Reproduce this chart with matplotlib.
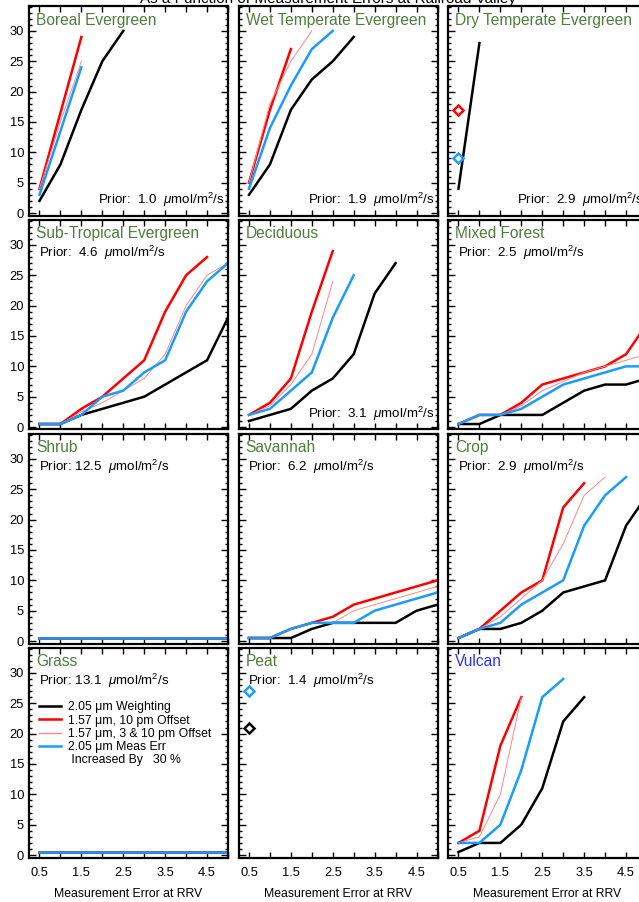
import numpy as np
import matplotlib
matplotlib.use("Agg")
import matplotlib.pyplot as plt
from matplotlib.lines import Line2D
from matplotlib.ticker import MultipleLocator, FuncFormatter

plt.rcParams['font.family'] = ['Liberation Sans', 'DejaVu Sans']
plt.rcParams['mathtext.fontset'] = 'custom'
plt.rcParams['mathtext.rm'] = 'Liberation Sans'
plt.rcParams['mathtext.it'] = 'Liberation Sans:italic'

# ---------------- data ----------------
x_err = [0.5, 1.0, 1.5, 2.0, 2.5, 3.0, 3.5, 4.0, 4.5, 5.0]

panel_names = ["Boreal Evergreen", "Wet Temperate Evergreen", "Dry Temperate Evergreen",
               "Sub-Tropical Evergreen", "Deciduous", "Mixed Forest",
               "Shrub", "Savannah", "Crop",
               "Grass", "Peat", "Vulcan"]
priors = [1.0, 1.9, 2.9, 4.6, 3.1, 2.5, 12.5, 6.2, 2.9, 13.1, 1.4, None]

# series per panel: black (2.05um weighting), red (1.57um 10pm), pink (1.57um 3&10pm), blue (meas err +30%)
black = {
    "Boreal Evergreen": [2, 8, 17, 25, 30],
    "Wet Temperate Evergreen": [3, 8, 17, 22, 25, 29],
    "Dry Temperate Evergreen": [4, 28],
    "Sub-Tropical Evergreen": [0.5, 0.5, 2, 3, 4, 5, 7, 9, 11, 18],
    "Deciduous": [1, 2, 3, 6, 8, 12, 22, 27],
    "Mixed Forest": [0.5, 0.5, 2, 2, 2, 4, 6, 7, 7, 8],
    "Shrub": [0.5] * 10,
    "Savannah": [0.5, 0.5, 0.5, 2, 3, 3, 3, 3, 5, 6],
    "Crop": [0.5, 2, 2, 3, 5, 8, 9, 10, 19, 24],
    "Grass": [0.5] * 10,
    "Peat": [21],
    "Vulcan": [0.5, 2, 2, 5, 11, 22, 26],
}
red = {
    "Boreal Evergreen": [4, 16.5, 29],
    "Wet Temperate Evergreen": [5, 17, 27],
    "Dry Temperate Evergreen": [17],
    "Sub-Tropical Evergreen": [0.5, 0.5, 3, 5, 8, 11, 19, 25, 28],
    "Deciduous": [2, 4, 8, 19, 29],
    "Mixed Forest": [0.5, 2, 2, 4, 7, 8, 9, 10, 12, 17],
    "Shrub": [0.5] * 10,
    "Savannah": [0.5, 0.5, 2, 3, 4, 6, 7, 8, 9, 10],
    "Crop": [0.5, 2, 5, 8, 10, 22, 26],
    "Grass": [0.5] * 10,
    "Peat": [],
    "Vulcan": [2, 4, 18, 26],
}
pink = {
    "Boreal Evergreen": [4, 15, 25],
    "Wet Temperate Evergreen": [5, 18, 25, 30],
    "Dry Temperate Evergreen": [],
    "Sub-Tropical Evergreen": [0.5, 0.5, 2.5, 4, 6, 8, 12, 20, 25, 27],
    "Deciduous": [2, 3.5, 7, 12, 24],
    "Mixed Forest": [0.5, 2, 2, 3.5, 6, 7.5, 9, 10, 11, 12],
    "Shrub": [0.5] * 10,
    "Savannah": [0.5, 0.5, 2, 3, 3, 5, 6, 7, 8, 9],
    "Crop": [0.5, 2, 4, 7, 10, 16, 24, 27],
    "Grass": [0.5] * 10,
    "Peat": [],
    "Vulcan": [2, 3, 10, 26],
}
blue = {
    "Boreal Evergreen": [3, 13.5, 24],
    "Wet Temperate Evergreen": [4, 14, 21, 27, 30],
    "Dry Temperate Evergreen": [9],
    "Sub-Tropical Evergreen": [0.5, 0.5, 2, 5, 6, 9, 11, 19, 24, 27],
    "Deciduous": [2, 3, 6, 9, 18, 25],
    "Mixed Forest": [0.5, 2, 2, 3, 5, 7, 8, 9, 10, 10],
    "Shrub": [0.5] * 10,
    "Savannah": [0.5, 0.5, 2, 3, 3, 3, 5, 6, 7, 8],
    "Crop": [0.5, 2, 3, 6, 8, 10, 19, 24, 27],
    "Grass": [0.5] * 10,
    "Peat": [27],
    "Vulcan": [2, 2, 5, 14, 26, 29],
}

legend_labels = ["2.05 μm Weighting", "1.57 μm, 10 pm Offset",
                 "1.57 μm, 3 & 10 pm Offset", "2.05 μm Meas Err",
                 " Increased By   30 %"]

title_text = "As a Function of Measurement Errors at Railroad Valley"

# ---------------- styles ----------------
C_BLACK = "#000000"
C_RED = "#ff0000"
C_PINK = "#ff8888"
C_BLUE = "#1a9cff"
C_GREEN = "#4f7d3c"
C_VULCAN = "#2a32ff"

W, H = 639, 902
fig = plt.figure(figsize=(W / 100, H / 100), dpi=100)

col_left = [29, 238.5, 448]
row_top = [6, 220, 434, 648]
aw, ah = 199, 209.5

fig.text(328 / W, 1 - 2.5 / H, title_text, ha="center", va="baseline", fontsize=11)

for i, name in enumerate(panel_names):
    r, c = divmod(i, 3)
    ax = fig.add_axes([col_left[c] / W, 1 - (row_top[r] + ah) / H, aw / W, ah / H])
    ax.set_xlim(0.25, 5.0)
    ax.set_ylim(-0.4, 34.1)

    for data, col, lw in [(black, C_BLACK, 1.8), (red, C_RED, 1.8),
                          (pink, C_PINK, 0.7), (blue, C_BLUE, 1.8)]:
        vals = data[name]
        if len(vals) == 0:
            continue
        xs = x_err[:len(vals)]
        if len(vals) == 1:
            ax.plot(xs, vals, linestyle="none", marker="D", ms=5.5, mfc="none",
                    mec=col, mew=1.8, clip_on=False)
        else:
            ax.plot(xs, vals, color=col, lw=lw, solid_joinstyle="miter")

    for sp in ax.spines.values():
        sp.set_linewidth(1.6)
    ax.xaxis.set_major_locator(MultipleLocator(0.5))
    ax.yaxis.set_major_locator(MultipleLocator(5))
    ax.yaxis.set_minor_locator(MultipleLocator(1))
    ax.tick_params(axis="both", which="both", direction="in", top=True, right=True, width=1.0)
    ax.tick_params(axis="x", which="major", length=4.5, pad=7, labelsize=9.3)
    ax.tick_params(axis="y", which="major", length=5, pad=3.5, labelsize=9.3)
    ax.tick_params(axis="y", which="minor", length=2.5)

    if r == 3:
        ax.xaxis.set_major_formatter(FuncFormatter(
            lambda v, p: ("%.1f" % v) if abs((v - 0.5) % 1.0) < 1e-6 and v < 4.9 else ""))
        ax.text(0.5, -36.5 / ah, "Measurement Error at RRV", transform=ax.transAxes,
                ha="center", va="center", fontsize=8.8)
    else:
        ax.set_xticklabels([])
    if c == 0:
        ax.yaxis.set_major_formatter(FuncFormatter(
            lambda v, p: "%d" % v if 0 <= v <= 30 else ""))
    else:
        ax.set_yticklabels([])

    tcol = C_VULCAN if name == "Vulcan" else C_GREEN
    ax.text(7 / aw, 1 - 14 / ah, name, transform=ax.transAxes, ha="left", va="center",
            fontsize=11.2, color=tcol)

    p = priors[i]
    if p is not None:
        ptxt = "Prior: %4.1f  $\\mu$mol/m$^2$/s" % p
        if r == 0 or name == "Deciduous":
            ax.text(1 - 3 / aw, 16 / ah, ptxt, transform=ax.transAxes, ha="right",
                    va="center", fontsize=9.6)
        else:
            ax.text(10 / aw, 1 - 33 / ah, ptxt, transform=ax.transAxes, ha="left",
                    va="center", fontsize=9.6)

    if name == "Grass":
        handles = [Line2D([], [], color=C_BLACK, lw=1.8), Line2D([], [], color=C_RED, lw=1.8),
                   Line2D([], [], color=C_PINK, lw=1.0), Line2D([], [], color=C_BLUE, lw=1.8),
                   Line2D([], [], color="none")]
        ax.legend(handles, legend_labels, loc="upper left",
                  bbox_to_anchor=(8 / aw, 1 - 51 / ah), frameon=False, fontsize=8.8,
                  handlelength=1.75, handletextpad=0.55, labelspacing=0.1,
                  borderpad=0.2, borderaxespad=0)

fig.savefig("out.png", dpi=100)
